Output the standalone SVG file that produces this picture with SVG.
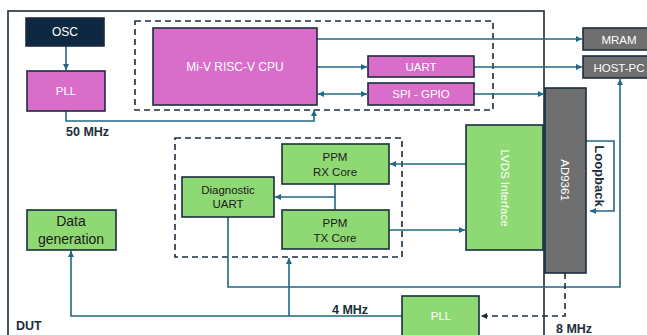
<svg xmlns="http://www.w3.org/2000/svg" width="647" height="335" viewBox="0 0 647 335">
<defs>
<style>
.box{stroke:#1b2e3c;stroke-width:1.6}
.mag{fill:#d86ec9}
.grn{fill:#8fd974}
.gry{fill:#6f6f6f}
.navy{fill:#0e2841}
.w{fill:#ffffff;font-family:"Liberation Sans",Arial,sans-serif;font-size:11.5px;text-anchor:middle}
.k{fill:#1a1a1a;font-family:"Liberation Sans",Arial,sans-serif;font-size:11.5px;text-anchor:middle}
.b{fill:#1b2e3c;font-family:"Liberation Sans",Arial,sans-serif;font-size:12.5px;font-weight:bold}
.ln{fill:none;stroke:#1f6887;stroke-width:1.6}
.dsh{fill:none;stroke:#1b2e3c;stroke-width:1.6;stroke-dasharray:6,4}
</style>
<marker id="a" viewBox="0 0 6 6" refX="6" refY="3" markerWidth="6" markerHeight="6" markerUnits="userSpaceOnUse" orient="auto">
<path d="M0,0 L6,3 L0,6 z" fill="#1f6887"/>
</marker>
<marker id="as" viewBox="0 0 6 6" refX="0" refY="3" markerWidth="6" markerHeight="6" markerUnits="userSpaceOnUse" orient="auto">
<path d="M6,0 L0,3 L6,6 z" fill="#1f6887"/>
</marker>
<marker id="ad" viewBox="0 0 6 6" refX="6" refY="3" markerWidth="6" markerHeight="6" markerUnits="userSpaceOnUse" orient="auto">
<path d="M0,0 L6,3 L0,6 z" fill="#1b2e3c"/>
</marker>
</defs>
<rect width="647" height="335" fill="#ffffff"/>

<g id="dut">
<rect x="8" y="11" width="536" height="340" fill="none" stroke="#1b2e3c" stroke-width="1.6"/>
<text class="b" x="16" y="330">DUT</text>
</g>

<g id="cpu-group"><rect class="dsh" x="135" y="21" width="358" height="89"/></g>
<g id="ppm-group"><rect class="dsh" x="175" y="138" width="227" height="119"/></g>

<g id="connectors">
<path class="ln" d="M66,46 V70" marker-end="url(#a)"/>
<path class="ln" d="M66,111 V121 H314 V110" marker-end="url(#a)"/>
<path class="ln" d="M317,39 H582" marker-end="url(#a)"/>
<path class="ln" d="M317,67 H367" marker-end="url(#a)"/>
<path class="ln" d="M474,67 H582" marker-end="url(#a)"/>
<path class="ln" d="M318,94 H367" marker-start="url(#as)" marker-end="url(#a)"/>
<path class="ln" d="M474,94 H544" marker-end="url(#a)"/>
<path class="ln" d="M466,164 H390" marker-end="url(#a)"/>
<path class="ln" d="M389,230 H465" marker-end="url(#a)"/>
<path class="ln" d="M335,184 V210 M335,197 H275" marker-end="url(#a)"/>
<path class="ln" d="M586,141 H614 V211 H590" marker-end="url(#a)"/>
<path class="ln" d="M228,217 V287 H620 V79" marker-end="url(#a)"/>
<path class="ln" d="M402,316 H71 V251" marker-end="url(#a)"/>
<path class="ln" d="M289,316 V258" marker-end="url(#a)"/>
<path class="dsh" d="M565,273 V316 H481" marker-end="url(#ad)"/>
</g>

<g id="osc"><rect class="box navy" x="26" y="18" width="78" height="28"/><text class="w" x="65" y="36" style="font-size:12px">OSC</text></g>
<g id="pll-top"><rect class="box mag" x="27" y="71" width="78" height="40"/><text class="w" x="66" y="95">PLL</text></g>
<g id="cpu"><rect class="box mag" x="153" y="28" width="164" height="77"/><text class="w" x="235" y="71" style="font-size:12px">Mi-V RISC-V CPU</text></g>
<g id="uart"><rect class="box mag" x="368" y="56" width="106" height="21"/><text class="w" x="421" y="71">UART</text></g>
<g id="spi"><rect class="box mag" x="368" y="83" width="106" height="22"/><text class="w" x="421" y="98">SPI - GPIO</text></g>
<g id="mram"><rect class="box gry" x="583" y="28" width="70" height="22"/><text class="w" x="619" y="43.5">MRAM</text></g>
<g id="hostpc"><rect class="box gry" x="583" y="56" width="70" height="22"/><text class="w" x="619" y="71.5">HOST-PC</text></g>
<g id="ad9361"><rect class="box gry" x="545" y="88" width="41" height="185"/><text class="w" transform="translate(565,180) rotate(90)" y="4">AD9361</text></g>
<g id="lvds"><rect class="box grn" x="466" y="125" width="77" height="125"/><text class="w" transform="translate(505,188) rotate(90)" y="4">LVDS Interface</text></g>
<g id="loopback"><text class="b" transform="translate(599,176) rotate(90)" y="4.5" style="font-size:13px;text-anchor:middle">Loopback</text></g>
<g id="ppm-rx"><rect class="box grn" x="282" y="144" width="107" height="40"/><text class="k" x="335" y="161">PPM</text><text class="k" x="335" y="176">RX Core</text></g>
<g id="ppm-tx"><rect class="box grn" x="282" y="210" width="107" height="39"/><text class="k" x="335" y="227">PPM</text><text class="k" x="335" y="242">TX Core</text></g>
<g id="diag"><rect class="box grn" x="182" y="177" width="92" height="40"/><text class="k" x="228" y="194">Diagnostic</text><text class="k" x="228" y="208">UART</text></g>
<g id="datagen"><rect class="box grn" x="27" y="210" width="89" height="40"/><text class="k" x="71" y="226" style="font-size:14px">Data</text><text class="k" x="71" y="244" style="font-size:14px">generation</text></g>
<g id="pll-bottom"><rect class="box grn" x="402" y="296" width="77" height="50"/><text class="w" x="441" y="320">PLL</text></g>

<g id="labels">
<text class="b" x="66" y="136">50 MHz</text>
<text class="b" x="332" y="314">4 MHz</text>
<text class="b" x="556" y="333">8 MHz</text>
</g>
</svg>
